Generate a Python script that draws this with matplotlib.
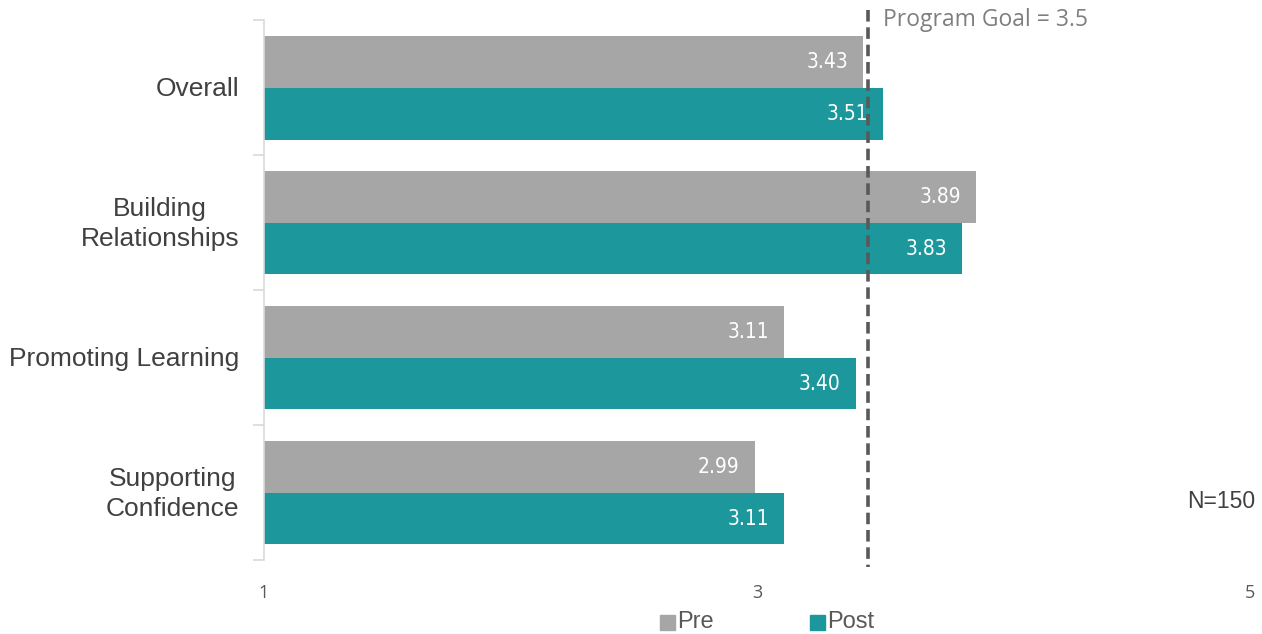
import matplotlib
matplotlib.use("Agg")
import matplotlib.pyplot as plt
import numpy as np
from matplotlib.patches import Rectangle

categories = ["Overall", "Building\nRelationships", "Promoting Learning", "Supporting\nConfidence"]
pre = [3.43, 3.89, 3.11, 2.99]
post = [3.51, 3.83, 3.40, 3.11]
goal_value = 3.5
goal_line_x = 3.45  # where the dashed line sits in the picture
x_ticks = [1, 3, 5]

pre_color = "#A6A6A6"
post_color = "#1C979B"
text_gray = "#404040"

fig = plt.figure(figsize=(12.62, 6.34), dpi=100)
ax = fig.add_axes([0.2092, 0.1167, 0.7813, 0.8517])

y = np.arange(len(categories))
h = 0.385
ax.barh(y - h / 2, [v - 1 for v in pre], height=h, left=1, color=pre_color)
ax.barh(y + h / 2, [v - 1 for v in post], height=h, left=1, color=post_color)

label_font = dict(family="DejaVu Sans", fontstretch="condensed", fontsize=15, color="white",
                  ha="right", va="center")
for i in range(len(categories)):
    ax.text(pre[i] - 0.06, y[i] - h / 2, f"{pre[i]:.2f}", **label_font)
    ax.text(post[i] - 0.06, y[i] + h / 2, f"{post[i]:.2f}", **label_font)

ax.set_xlim(1, 5)
ax.set_ylim(len(categories) - 0.5, -0.5)

# goal line
ax.plot([goal_line_x, goal_line_x], [-0.575, 3.55], ls=(0, (3.2, 1.6)), lw=2.6,
        color="#595959", clip_on=False)
ax.text(goal_line_x + 0.06, -0.5, f"Program Goal = {goal_value}", family="Open Sans",
        fontsize=16.5, color="#7F7F7F", ha="left", va="center")

# category ticks (separators)
ax.set_yticks(np.arange(-0.5, len(categories)), minor=False)
ax.set_yticklabels([])
ax.tick_params(axis="y", length=8, color="#D9D9D9", width=1.2)
for i, c in enumerate(categories):
    ax.text(-0.025, y[i] + 0.01, c, transform=ax.get_yaxis_transform(), ha="right", va="center",
            family="Liberation Sans", fontsize=19, color=text_gray, linespacing=1.32,
            multialignment="center")

ax.set_xticks(x_ticks)
ax.set_xticklabels([str(t) for t in x_ticks], family="Open Sans", fontsize=13, color="#595959")
ax.tick_params(axis="x", length=0, pad=17)

for s in ["top", "right", "bottom"]:
    ax.spines[s].set_visible(False)
ax.spines["left"].set_color("#D9D9D9")
ax.spines["left"].set_linewidth(1.2)

fig.text(1255 / 1262, 1 - 502 / 634, "N=150", family="Liberation Sans", fontsize=16.5,
         color=text_gray, ha="right", va="center")

# legend
for x0, lab, col in [(660, "Pre", pre_color), (810, "Post", post_color)]:
    fig.patches.append(Rectangle((x0 / 1262, 1 - 630 / 634), 15 / 1262, 15 / 634,
                                 transform=fig.transFigure, color=col))
    fig.text((x0 + 17) / 1262, 1 - 622 / 634, lab, family="Liberation Sans", fontsize=17,
             color="#595959", ha="left", va="center")

fig.savefig("out.png", dpi=100)
